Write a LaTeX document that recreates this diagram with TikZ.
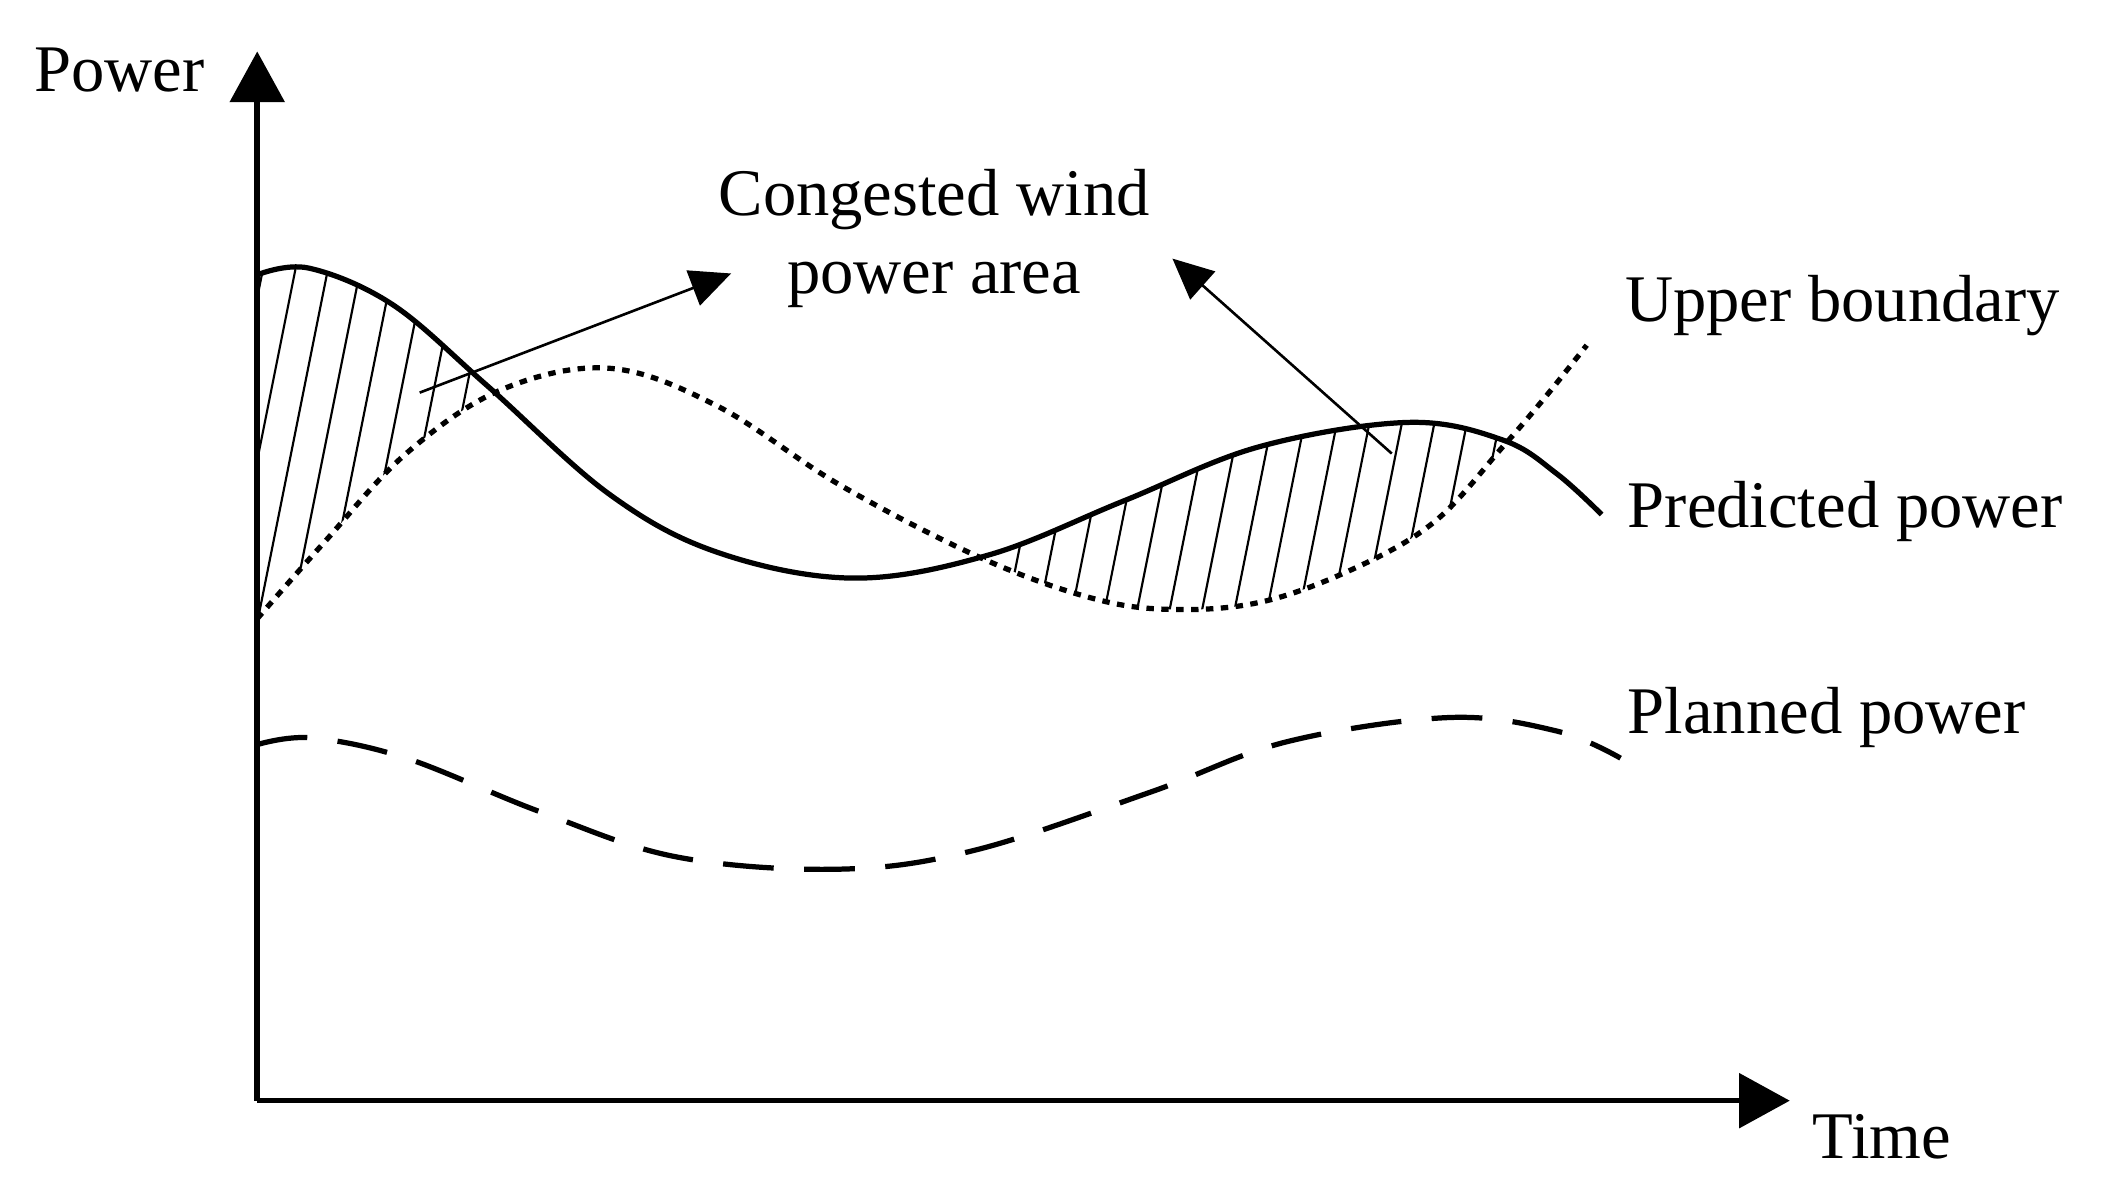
\documentclass[tikz,border=0pt]{standalone}
\usepackage{fontspec}
\setmainfont{Liberation Serif}
\usetikzlibrary{arrows.meta}
\begin{document}
\begin{tikzpicture}[x=0.02cm,y=-0.02cm,
  lbl/.style={font=\fontsize{28}{33}\selectfont,inner sep=0pt},
  curve/.style={line width=2.2pt},
  arr/.style={line width=1.1pt,-{Triangle[length=0.6cm,width=0.55cm]}}]
\useasboundingbox (0,0) rectangle (1560,883);
\def\solidpts{(190,203)(228,198)(290,225)(360,285)(450,365)(530,408)(630,427)(730,410)(830,370)(930,330)(1040,312)(1110,325)(1150,350)(1183,380)}
\def\dotpts{(190,457)(240,400)(300,335)(370,288)(450,272)(530,300)(620,358)(720,410)(800,440)(860,450)(930,445)(1000,420)(1060,385)(1110,330)(1140,295)(1172,255)}
% hatching
\begin{scope}
\clip plot[smooth,tension=0.6] coordinates {\solidpts} -- (1183,900) -- (190,900) -- cycle;
\clip plot[smooth,tension=0.6] coordinates {\dotpts} -- (1172,0) -- (190,0) -- cycle;
\foreach \x in {110,134,...,1160}
  \draw[line width=0.9pt] (\x,500) -- (\x+64,180);
\end{scope}
\draw[curve] plot[smooth,tension=0.6] coordinates {\solidpts};
\draw[curve,dash pattern=on 0.11cm off 0.11cm] plot[smooth,tension=0.6] coordinates {\dotpts};
\draw[curve,dash pattern=on 0.75cm off 0.45cm] plot[smooth,tension=0.6] coordinates {(190,550)(230,545)(300,560)(400,600)(500,633)(620,642)(720,628)(850,585)(950,548)(1070,530)(1150,540)(1197,560)};
% axes
\coordinate (o) at (190,813);
\coordinate (ytip) at (190,38);
\coordinate (xtip) at (1322,813);
\draw[line width=2.3pt,-{Triangle[length=0.75cm,width=0.8cm]}] (o) -- (ytip);
\draw[line width=2.3pt,-{Triangle[length=0.75cm,width=0.8cm]}] (o) -- (xtip);
% labels
\node[lbl] (pw) at (88,52) {Power};
\node[lbl] (tm) at (1390,840) {Time};
\node[lbl,align=center] (cg) at (690,176) {Congested wind\\power area};
\node[lbl,anchor=west] (ub) at (1200,226) {Upper boundary};
\node[lbl,anchor=west] (pp) at (1202,378) {Predicted power};
\node[lbl,anchor=west] (pl) at (1202,530) {Planned power};
% arrows
\coordinate (a1) at (310,290);
\coordinate (a2) at (1028,335);
\draw[arr] (a1) -- (540,202);
\draw[arr] (a2) -- (866,191);
\end{tikzpicture}
\end{document}
